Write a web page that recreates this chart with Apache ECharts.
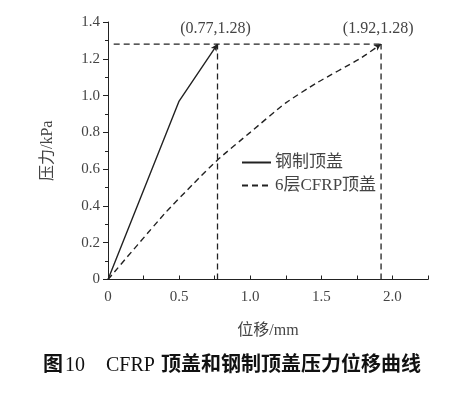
<!DOCTYPE html>
<html>
<head>
<meta charset="utf-8">
<script src="https://cdn.jsdelivr.net/npm/echarts@6/dist/echarts.min.js"></script>
<style>
  html, body { margin: 0; padding: 0; background: #fff; }
  #chart { width: 464px; height: 398px; }
</style>
</head>
<body>
<div id="chart"></div>
<script>
// 数据
const steelX = [0, 0.5, 0.77]
const steelY = [0, 0.97, 1.28]
const cfrpX = [0, 0.4, 0.6, 0.77, 1.0, 1.25, 1.47, 1.77, 1.92]
const cfrpY = [0, 0.36, 0.52, 0.65, 0.80, 0.96, 1.07, 1.20, 1.28]
const seriesNames = ['钢制顶盖', '6层CFRP顶盖']
const peakX = [0.77, 1.92]
const peakY = 1.28
const guideStartX = 0.04
const xTicks = ['0', '0.5', '1.0', '1.5', '2.0']
const yTicks = ['0', '0.2', '0.4', '0.6', '0.8', '1.0', '1.2', '1.4']

const serif = '"Liberation Serif", "Noto Sans CJK SC", serif'
const lineColor = '#222'
const textColor = '#444'

// 末点带箭头和坐标标注
function buildData(xs, ys, arrowRotate) {
  return xs.map((x, i) => {
    const item = { value: [x, ys[i]] }
    if (i === xs.length - 1) {
      item.symbol = 'arrow'
      item.symbolSize = [5, 7]
      item.symbolRotate = arrowRotate
      item.label = {
        show: true,
        position: 'top',
        distance: 5,
        formatter: '(' + x + ',' + ys[i].toFixed(2) + ')',
        fontFamily: serif,
        fontSize: 16,
        color: textColor
      }
    }
    return item
  })
}

// 辅助虚线
const guideStyle = { color: lineColor, width: 1.3, type: [6, 4] }
const guideSeries = [
  [[guideStartX, peakY], [peakX[1], peakY]],
  [[peakX[0], 0], [peakX[0], peakY]],
  [[peakX[1], 0], [peakX[1], peakY]]
].map(d => ({
  type: 'line',
  data: d,
  symbol: 'none',
  silent: true,
  lineStyle: guideStyle,
  z: 1
}))

// 图题，分段排版
const captionY = 366
const captionParts = [
  { text: '图', x: 43, bold: true },
  { text: '10', x: 65, bold: false },
  { text: 'CFRP', x: 106, bold: false },
  { text: '顶盖和钢制顶盖压力位移曲线', x: 161, bold: true }
]

const chart = echarts.init(document.getElementById('chart'))

const option = {
  animation: false,
  grid: { left: 108, right: 36, top: 22, bottom: 118.5 },
  legend: {
    orient: 'vertical',
    left: 241,
    top: 154,
    padding: 0,
    itemWidth: 29,
    itemHeight: 10,
    itemGap: 6,
    data: seriesNames,
    itemStyle: { color: 'transparent', borderColor: 'transparent', borderWidth: 0 },
    textStyle: { fontFamily: serif, fontSize: 17, color: textColor, padding: [0, 0, 0, -1] }
  },
  xAxis: {
    type: 'value',
    min: 0,
    max: 2.25,
    interval: 0.25,
    name: '位移/mm',
    nameLocation: 'middle',
    nameGap: 43,
    nameTextStyle: { fontFamily: serif, fontSize: 16, color: textColor },
    splitLine: { show: false },
    axisLine: { lineStyle: { color: lineColor, width: 1 } },
    axisTick: { inside: true, length: 4, lineStyle: { color: lineColor } },
    axisLabel: {
      fontFamily: serif,
      fontSize: 15,
      color: textColor,
      margin: 10,
      formatter: v => {
        const k = Math.round(v / 0.5)
        if (Math.abs(v - k * 0.5) > 1e-6) return ''
        return xTicks[k] || ''
      }
    }
  },
  yAxis: {
    type: 'value',
    min: 0,
    max: 1.4,
    interval: 0.2,
    name: '压力/kPa',
    nameLocation: 'middle',
    nameGap: 52,
    nameTextStyle: { fontFamily: serif, fontSize: 16, color: textColor },
    splitLine: { show: false },
    axisLine: { show: true, lineStyle: { color: lineColor, width: 1 } },
    axisTick: { show: true, length: 5, lineStyle: { color: lineColor } },
    minorTick: { show: true, splitNumber: 2, length: 3, lineStyle: { color: lineColor } },
    axisLabel: {
      fontFamily: serif,
      fontSize: 15,
      color: textColor,
      margin: 8,
      formatter: v => yTicks[Math.round(v / 0.2)]
    }
  },
  graphic: captionParts.map(p => ({
    type: 'text',
    x: p.x,
    y: captionY,
    style: {
      text: p.text,
      font: (p.bold ? 'bold ' : '') + '20px "Liberation Serif", "Noto Sans CJK SC", serif',
      fill: '#111',
      verticalAlign: 'middle'
    }
  })),
  series: [
    {
      name: seriesNames[0],
      type: 'line',
      symbol: 'none',
      showSymbol: true,
      data: buildData(steelX, steelY, -34),
      itemStyle: { color: lineColor },
      lineStyle: { color: lineColor, width: 1.4 },
      z: 3
    },
    {
      name: seriesNames[1],
      type: 'line',
      symbol: 'none',
      showSymbol: true,
      smooth: 0.2,
      data: buildData(cfrpX, cfrpY, -55),
      itemStyle: { color: lineColor },
      lineStyle: { color: lineColor, width: 1.4, type: [6, 4] },
      z: 3
    },
    ...guideSeries
  ]
}

chart.setOption(option)
window.addEventListener('resize', () => chart.resize())
</script>
</body>
</html>
